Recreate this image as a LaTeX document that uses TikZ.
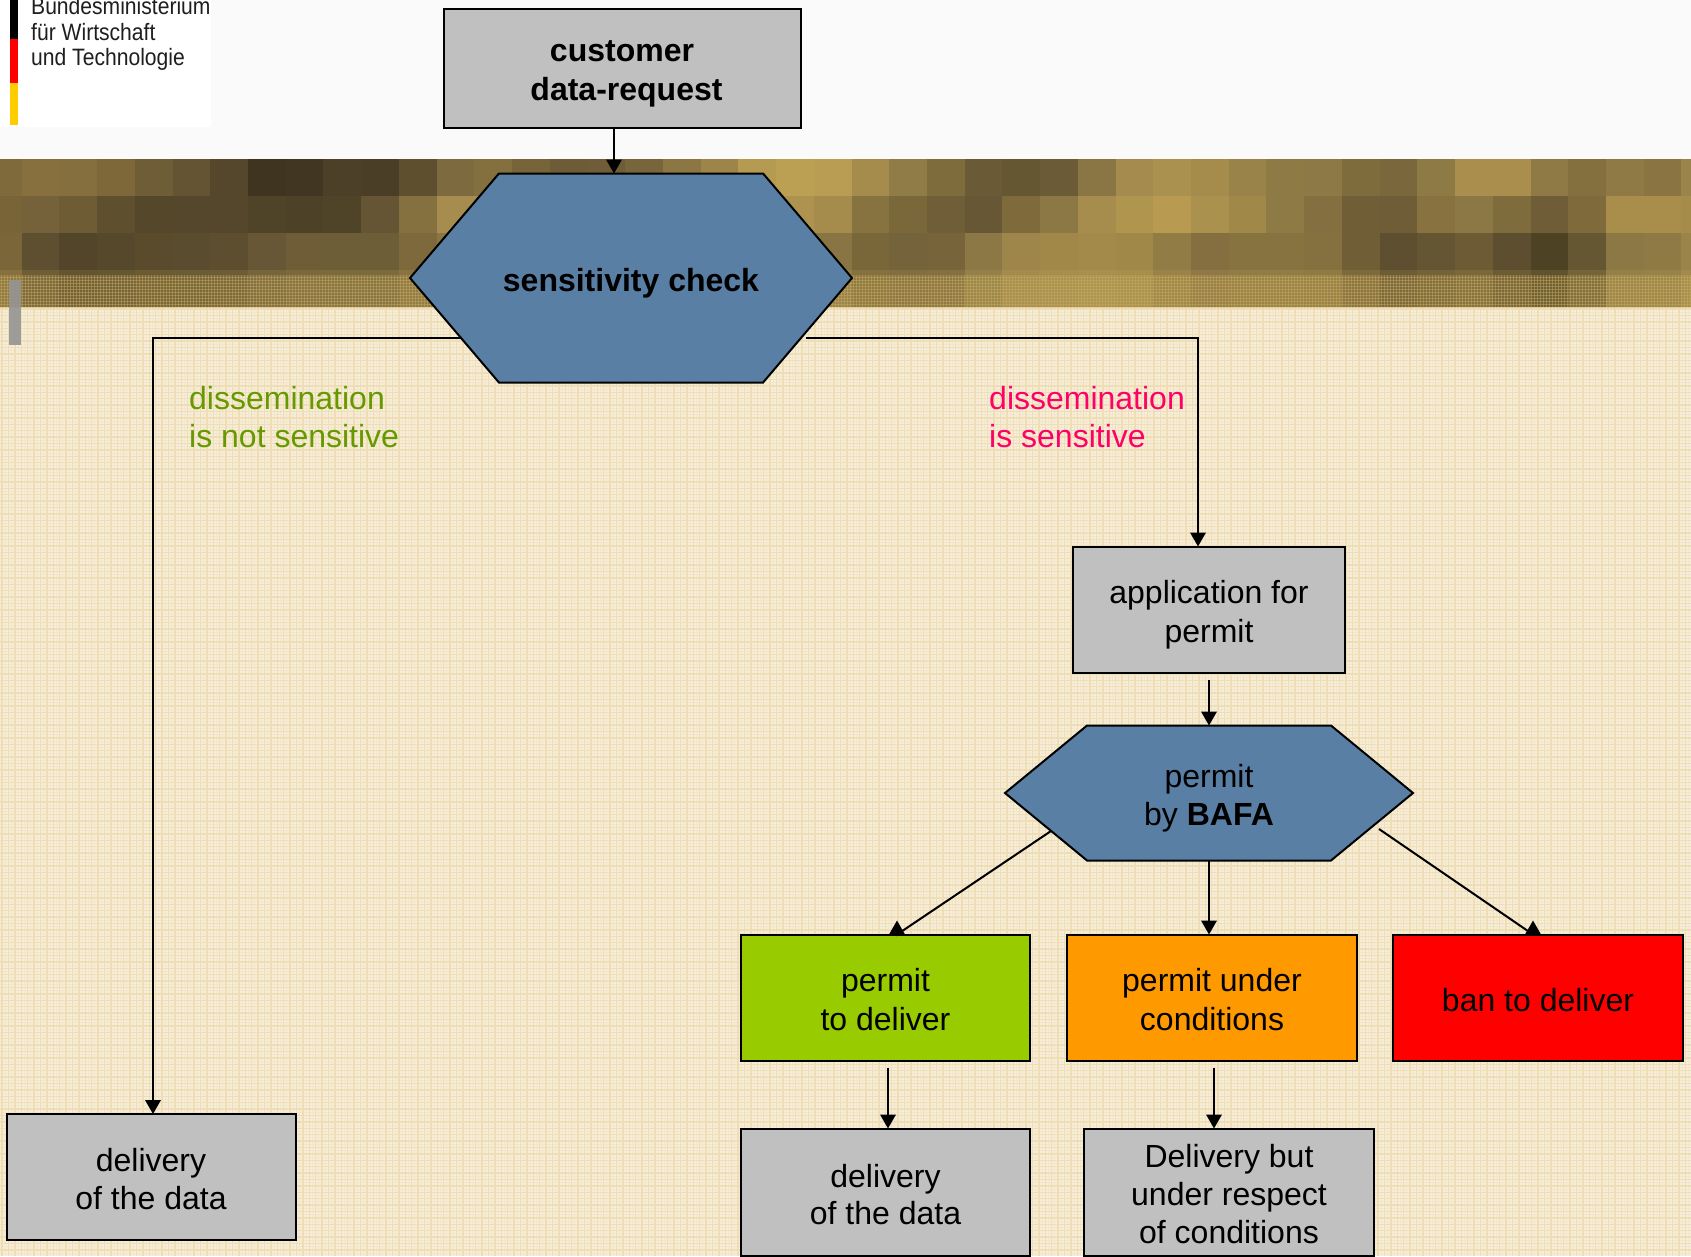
\documentclass[tikz,border=0pt]{standalone}
\usepackage{fontspec}
\setmainfont{Liberation Sans}
\newfontfamily\logofont[FakeStretch=0.89]{Liberation Sans}
\usetikzlibrary{arrows.meta,calc,shapes.symbols}
\definecolor{pagetop}{HTML}{FAFAFA}
\definecolor{boxgrey}{HTML}{C0C0C0}
\definecolor{hexblue}{HTML}{5A7FA5}
\definecolor{okgreen}{HTML}{99CC00}
\definecolor{condorange}{HTML}{FF9900}
\definecolor{banred}{HTML}{FF0000}
\definecolor{flaggold}{HTML}{FFCC00}
\definecolor{labelgreen}{HTML}{669900}
\definecolor{labelpink}{HTML}{FF0066}
\definecolor{beige}{HTML}{F7EEDA}
\definecolor{beigeline}{HTML}{EFDDB6}
\definecolor{beigefine}{HTML}{F2E6CC}
\definecolor{goldmix}{HTML}{C8AC60}
\newcommand\dnshift[1]{\rule{0pt}{\dimexpr 24pt+2\dimexpr #1pt\relax\relax}}
\tikzset{
  flowbox/.style={draw=black,line width=2pt,inner sep=0pt,outer sep=0pt,align=center,
     font=\fontsize{32}{38.8}\selectfont,text=black},
  greybox/.style={flowbox,fill=boxgrey},
  hexnode/.style={draw=black,line width=2pt,fill=hexblue,inner sep=0pt,outer sep=0pt,align=center,
     shape=signal,signal to=west and east,font=\fontsize{32}{37.7}\selectfont,text=black},
  conn/.style={draw=black,line width=2pt},
  arrowconn/.style={conn,-{Triangle[length=14pt,width=15.5pt]}},
  branchlabel/.style={font=\fontsize{32}{38.8}\selectfont,align=left,anchor=west,inner sep=0pt},
}
\begin{document}
\begin{tikzpicture}[x=1pt,y=-1pt]
\useasboundingbox (0,0) rectangle (1691,1256);
% page background
\fill[pagetop] (0,0) rectangle (1691,1256);
% logo panel
\fill[white] (0,0) rectangle (211,127);
\fill[black] (10,0) rectangle (18,39);
\fill[banred] (10,39) rectangle (18,83);
\fill[flaggold] (10,83) rectangle (18,125);
\node[anchor=south west,inner sep=0pt,align=left,text=black!88,font=\logofont\fontsize{23.7}{25.5}\selectfont] (logotext) at (31,71)
  {Bundesministerium\\für Wirtschaft\\und Technologie};
% lower pattern
\fill[beige] (0,307) rectangle (1691,1256);
\draw[beigefine,line width=.8pt] \foreach \x in {5.2,11.6,...,1691}{ (\x,307) -- (\x,1256) };
\draw[beigefine,line width=.8pt] \foreach \y in {312.2,318.6,...,1256}{ (0,\y) -- (1691,\y) };
\draw[beigeline,line width=1.4pt] \foreach \x in {2,8.4,...,1691}{ (\x,307) -- (\x,1256) };
\draw[beigeline,line width=1.4pt] \foreach \y in {309,315.4,...,1256}{ (0,\y) -- (1691,\y) };
% mosaic band
\foreach \k/\a/\b/\c in {
0/7F6A3C/786437/7A6638,1/87703E/75613A/5E4F30,2/866F3E/6E5C35/52452A,3/7E683A/5E4F2F/55482B,
4/6F5D37/55482A/5A4B2C,5/645433/54472B/5A4C2E,6/54472B/54472B/5D4E30,7/3F3420/4F4328/675736,
8/413622/4D4128/6E5D37,9/4C4029/504428/6E5E38,10/4A3E26/655535/6E5E38,11/5E4F2F/85703F/7D693C,
12/7D6A3E/A68C4E/8A7544,13/84703F/A68C4F/8A7544,14/776439/9A8249/857040,15/6D5C37/8F7A45/857040,
16/6E5D38/8A7543/8A7544,17/78653C/8F7A45/8F7A45,18/8B7644/9A8249/8F7A45,19/9D8549/A68C4E/8F7A45,
20/B59A52/B0944F/8A7544,21/BB9F52/AD934F/8A7444,22/B99D52/A58C4D/897543,23/A58C4D/877340/796639,
24/8F7C47/7A673A/75633B,25/7F6C3D/6F5E37/77643A,26/6B5A36/675735/8B7844,27/665733/7E6A3B/9E8549,
28/6B5B37/8C7844/A18849,29/8A7644/A68C4D/A38A4A,30/A58C4E/B0954F/A08848,31/AB914F/B89A50/927C45,
32/A58C4D/AB914E/856F40,33/9A8349/A08849/877340,34/8E7A45/8E7A45/877340,35/8D7945/846F40/85713F,
36/7E6C3D/705E36/705E36,37/7A683C/6E5D36/5D4F2F,38/8E7A45/887340/655633,39/A98E4E/8C7844/6C5B35,
40/A98E4E/7F6C3D/5C4E2E,41/8F7A45/6E5D36/4E4225,42/84703F/7E6A3B/665733,43/8F7A45/A98E4B/8C7844,
44/8A7542/A98E4B/8F7A45,45/9A8449/A58C4A/9A8449}{
  \definecolor{cellA}{HTML}{\a}\definecolor{cellB}{HTML}{\b}\definecolor{cellC}{HTML}{\c}
  \pgfmathsetmacro{\xl}{max(0,-16+37.72*\k)}
  \pgfmathsetmacro{\xr}{min(1691,-16+37.72*(\k+1))}
  \fill[cellA] (\xl,159) rectangle (\xr,196.4);
  \fill[cellB] (\xl,196) rectangle (\xr,233.4);
  \fill[cellC] (\xl,233) rectangle (\xr,270.4);
  \fill[cellC!85!goldmix] (\xl,270) rectangle (\xr,275.4);
  \fill[cellC!72!goldmix] (\xl,275) rectangle (\xr,307);
}
\draw[goldmix,opacity=.45,line width=1pt] \foreach \x in {1,4,...,1691}{ (\x,275) -- (\x,307) };
\draw[goldmix,opacity=.45,line width=1pt] \foreach \y in {277,280,...,307}{ (0,\y) -- (1691,\y) };
% small grey tick
\fill[black!42,opacity=.9] (9,280) rectangle (21,345);

% nodes
\node[greybox,minimum width=357pt,minimum height=119pt] (customer) at (622,68)
  {\dnshift{4}\textbf{customer}\\\hspace*{9pt}\textbf{data-request}};
\node[hexnode,minimum width=442pt,minimum height=209pt,signal pointer angle=99.2] (check) at (631,278)
  {\dnshift{4.5}\textbf{sensitivity check}};
\node[greybox,minimum width=272pt,minimum height=126pt] (app) at (1209,609.5) {\dnshift{4.5}application for\\permit};
\node[hexnode,minimum width=408pt,minimum height=135pt,signal pointer angle=78.9] (bafa) at (1209,793)
  {\dnshift{5}permit\\by \textbf{BAFA}};
\node[flowbox,fill=okgreen,minimum width=289pt,minimum height=126pt] (okbox) at (885.5,997.5) {\dnshift{1.5}permit\\to deliver};
\node[flowbox,fill=condorange,minimum width=290pt,minimum height=126pt] (condbox) at (1212,997.5) {\dnshift{1.5}permit under\\conditions};
\node[flowbox,fill=banred,minimum width=290pt,minimum height=126pt] (banbox) at (1538,997.5) {\dnshift{2}ban to deliver};
\node[greybox,minimum width=289pt,minimum height=126pt,font=\fontsize{32}{37.7}\selectfont] (deliveryA) at (151,1177) {\dnshift{1.5}delivery\\of the data};
\node[greybox,minimum width=289pt,minimum height=127pt,font=\fontsize{32}{37.7}\selectfont] (deliveryB) at (885.5,1192) {\dnshift{2}delivery\\of the data};
\node[greybox,minimum width=290pt,minimum height=127pt,font=\fontsize{32}{37.7}\selectfont] (deliveryC) at (1229,1192) {\dnshift{1.5}Delivery but\\under respect\\of conditions};

% branch labels
\node[branchlabel,text=labelgreen] (labelno) at (189,417) {dissemination\\is not sensitive};
\node[branchlabel,text=labelpink] (labelyes) at (989,417) {dissemination\\is sensitive};

% connector helper points
\coordinate (custout) at ($(customer.south)+(-8,0)$);
\coordinate (checkleft) at ($(check.west)+(51,59.5)$);
\coordinate (checkright) at ($(check.east)+(-46,59.5)$);
\coordinate (downA) at ($(deliveryA.north)+(2,0)$);
\coordinate (intoapp) at ($(app.north)+(-11,0)$);
\coordinate (okout) at ($(okbox.south)+(2.5,0)$);
\coordinate (condout) at ($(condbox.south)+(2,0)$);
\coordinate (bafaleft) at ($(bafa.west)+(46,38)$);
\coordinate (bafaright) at ($(bafa.east)+(-34,36)$);
\coordinate (okbase) at ($(okbox.north)+(11.5,0)$);
\coordinate (okapex) at ($(okbase)+(0,-14)$);
\coordinate (banbase) at ($(banbox.north)+(-5,0)$);
\coordinate (banapex) at ($(banbase)+(0,-14)$);

% connectors
\draw[arrowconn] (custout) -- (custout |- check.north);
\draw[arrowconn] (checkleft) -| (downA);
\draw[arrowconn] (checkright) -| (intoapp);
\draw[arrowconn,shorten <=7pt] (app.south) -- (bafa.north);
\draw[arrowconn] (bafa.south) -- (condbox.north -| bafa.south);
\draw[arrowconn] (bafaleft) -- (okbase) -- (okapex);
\draw[arrowconn] (bafaright) -- (banbase) -- (banapex);
\draw[arrowconn,shorten <=7pt] (okout) -- (okout |- deliveryB.north);
\draw[arrowconn,shorten <=7pt] (condout) -- (condout |- deliveryC.north);
\end{tikzpicture}
\end{document}
